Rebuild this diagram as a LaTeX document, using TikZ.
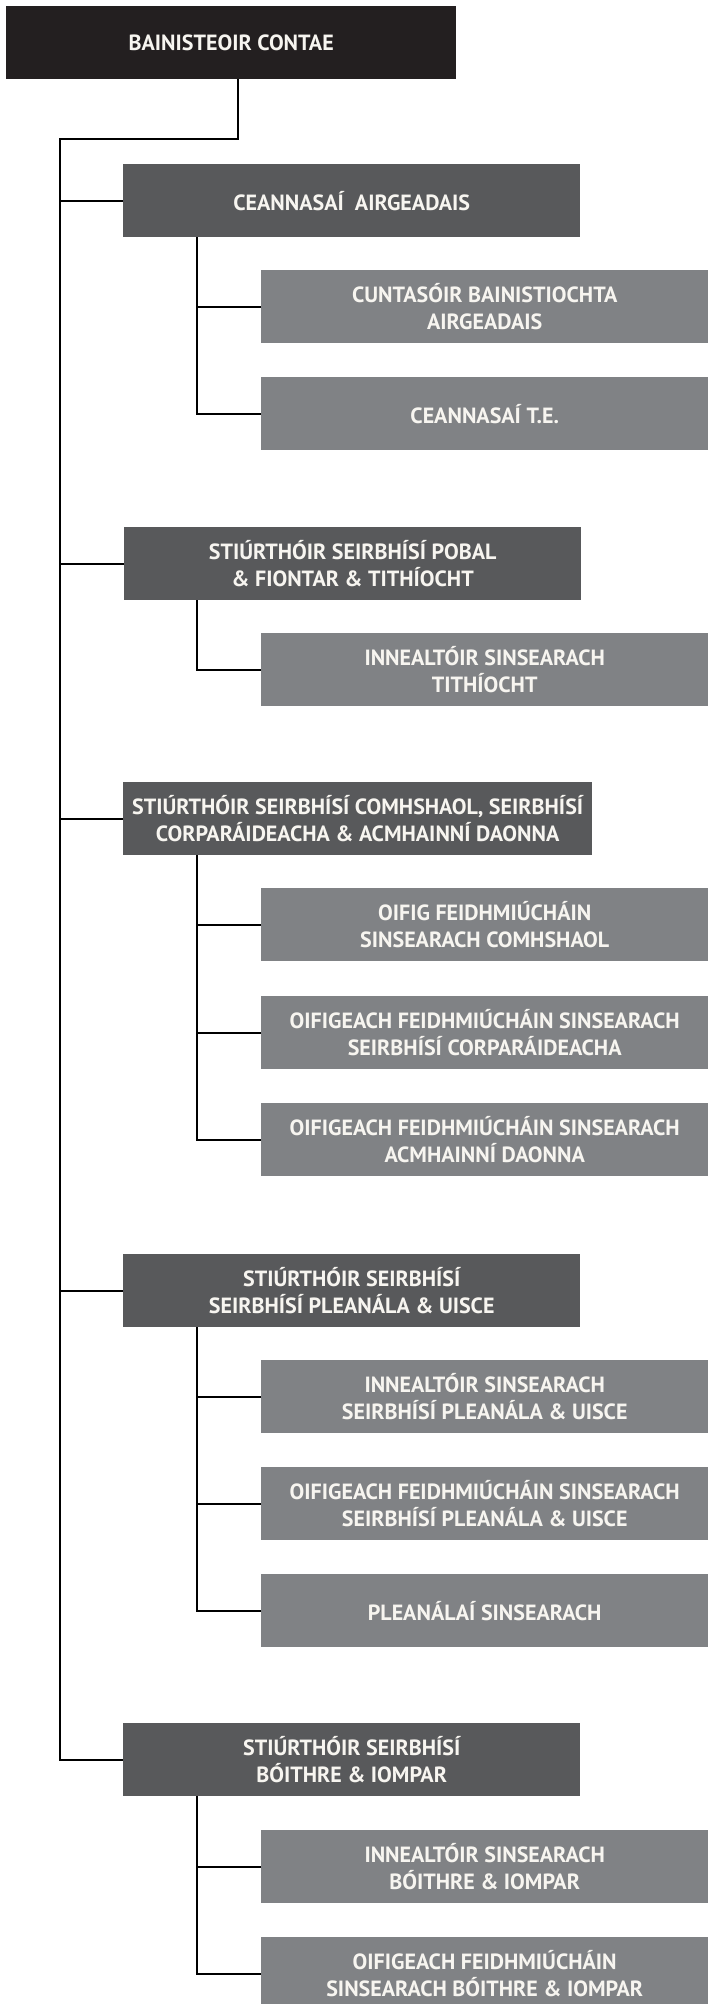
\documentclass[tikz,border=0pt]{standalone}
\usepackage{fontspec}
\setmainfont{PT Sans}
\usepackage{tikz}
\usetikzlibrary{positioning,calc}

\definecolor{boxblack}{HTML}{231F20}
\definecolor{boxdark}{HTML}{58595B}
\definecolor{boxgrey}{HTML}{808285}
\definecolor{boxtext}{HTML}{F7F5F0}

\tikzset{
    post/.style={rectangle, anchor=north west, inner sep=0pt, align=center,
        minimum height=73pt, text=boxtext,
        font=\bfseries\fontsize{22}{27}\selectfont},
    head/.style={post, fill=boxblack, minimum width=450pt},
    director/.style={post, fill=boxdark, minimum width=457pt},
    officer/.style={post, fill=boxgrey, minimum width=447pt},
    link/.style={-, line width=2.2pt, black}
}

\begin{document}
\begin{tikzpicture}[x=1pt, y=-1pt]
    \useasboundingbox (0,0) rectangle (708,2004);

    \node[head] (boss) at (6, 6) {BAINISTEOIR CONTAE};

    \node[director] (fin) at (123, 164) {CEANNASAÍ\ \ AIRGEADAIS};
    \node[officer] (fin1) at (261, 270) {CUNTASÓIR BAINISTIOCHTA\\AIRGEADAIS};
    \node[officer] (fin2) at (261, 377) {CEANNASAÍ T.E.};

    \node[director] (comm) at (124, 527) {STIÚRTHÓIR SEIRBHÍSÍ POBAL\\\& FIONTAR \& TITHÍOCHT};
    \node[officer] (comm1) at (261, 633) {INNEALTÓIR SINSEARACH\\TITHÍOCHT};

    \node[director, minimum width=469pt] (env) at (123, 782) {STIÚRTHÓIR SEIRBHÍSÍ COMHSHAOL, SEIRBHÍSÍ\\CORPARÁIDEACHA \& ACMHAINNÍ DAONNA};
    \node[officer] (env1) at (261, 888) {OIFIG FEIDHMIÚCHÁIN\\SINSEARACH COMHSHAOL};
    \node[officer] (env2) at (261, 996) {OIFIGEACH FEIDHMIÚCHÁIN SINSEARACH\\SEIRBHÍSÍ CORPARÁIDEACHA};
    \node[officer] (env3) at (261, 1103) {OIFIGEACH FEIDHMIÚCHÁIN SINSEARACH\\ACMHAINNÍ DAONNA};

    \node[director] (plan) at (123, 1254) {STIÚRTHÓIR SEIRBHÍSÍ\\SEIRBHÍSÍ PLEANÁLA \& UISCE};
    \node[officer] (plan1) at (261, 1360) {INNEALTÓIR SINSEARACH\\SEIRBHÍSÍ PLEANÁLA \& UISCE};
    \node[officer] (plan2) at (261, 1467) {OIFIGEACH FEIDHMIÚCHÁIN SINSEARACH\\SEIRBHÍSÍ PLEANÁLA \& UISCE};
    \node[officer] (plan3) at (261, 1574) {PLEANÁLAÍ SINSEARACH};

    \node[director] (road) at (123, 1723) {STIÚRTHÓIR SEIRBHÍSÍ\\BÓITHRE \& IOMPAR};
    \node[officer] (road1) at (261, 1830) {INNEALTÓIR SINSEARACH\\BÓITHRE \& IOMPAR};
    \node[officer] (road2) at (261, 1937) {OIFIGEACH FEIDHMIÚCHÁIN\\SINSEARACH BÓITHRE \& IOMPAR};

    % main spine
    \coordinate (trunk) at (60, 139);
    \draw[link] ($(boss.south west)+(232,0)$) |- (trunk) -- (trunk |- road.west) -- (road.west);
    \draw[link] (fin.west) -- (fin.west -| trunk);
    \draw[link] (comm.west) -- (comm.west -| trunk);
    \draw[link] (env.west) -- (env.west -| trunk);
    \draw[link] (plan.west) -- (plan.west -| trunk);

    % branches
    \draw[link] ($(fin.south west)+(74,0)$) |- (fin2.west);
    \draw[link] (fin1.west) -- ++(-64,0);

    \draw[link] ($(comm.south west)+(73,0)$) |- (comm1.west);

    \draw[link] ($(env.south west)+(74,0)$) |- (env3.west);
    \draw[link] (env1.west) -- ++(-64,0);
    \draw[link] (env2.west) -- ++(-64,0);

    \draw[link] ($(plan.south west)+(74,0)$) |- (plan3.west);
    \draw[link] (plan1.west) -- ++(-64,0);
    \draw[link] (plan2.west) -- ++(-64,0);

    \draw[link] ($(road.south west)+(74,0)$) |- (road2.west);
    \draw[link] (road1.west) -- ++(-64,0);

\end{tikzpicture}
\end{document}
